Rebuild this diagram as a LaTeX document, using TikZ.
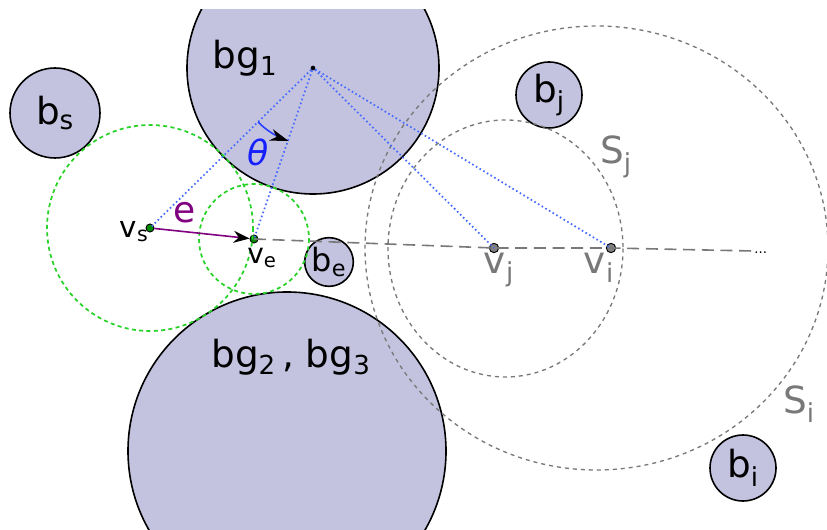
\documentclass[tikz,border=0pt]{standalone}
\usepackage{fontspec}
\setmainfont{DejaVu Sans}
\usetikzlibrary{arrows.meta, positioning, calc}
\definecolor{obstfill}{RGB}{195,195,224}
\definecolor{edgepurple}{RGB}{128,0,128}
\definecolor{rayblue}{RGB}{70,105,255}
\definecolor{ringgreen}{RGB}{40,210,40}
\definecolor{softgray}{RGB}{120,120,120}

\begin{document}
\begin{tikzpicture}[
        x=0.75pt, y=-0.75pt,
        obst/.style={circle, draw, line width=1.2pt, fill=obstfill, inner sep=0pt},
        gdot/.style={circle, draw, fill=green!55!black, minimum size=6pt,
                     inner sep=0pt, line width=0.7pt},
        kdot/.style={circle, draw, fill=gray, minimum size=7pt,
                     inner sep=0pt, line width=0.7pt},
        ring/.style={ringgreen, line width=1.3pt, dash pattern=on 3pt off 2.5pt},
        sring/.style={softgray, line width=1pt, dash pattern=on 3pt off 3pt},
        ray/.style={rayblue, line width=1.3pt, dash pattern=on 1.2pt off 2pt},
        track/.style={softgray, line width=1.2pt, dash pattern=on 9pt off 5pt},
        big/.style={font=\fontsize{28}{30}\selectfont},
        mid/.style={font=\fontsize{22}{24}\selectfont}
      ]
        \useasboundingbox (0,0) rectangle (827,530);
        \clip (0,10) rectangle (827,530);

        % obstacles
        \node[obst, minimum size=189pt] (bg1) at (313,68) {};
        \node[obst, minimum size=238.5pt] (bg23) at (287,451) {};
        \node[obst, minimum size=67.5pt, label={[big]center:b\textsubscript{s}}] (bs) at (55,113) {};
        \node[obst, minimum size=49.5pt, label={[big]center:b\textsubscript{j}}] (bj) at (549,95) {};
        \node[obst, minimum size=36.5pt, label={[font=\fontsize{24}{26}\selectfont]center:b\textsubscript{e}}] (be) at (329,262) {};
        \node[obst, minimum size=49.5pt, label={[big]center:b\textsubscript{i}}] (bi) at (743,468) {};

        % vertices
        \node[gdot] (vs) at (150,228) {};
        \node[gdot] (ve) at (254,239) {};
        \node[kdot] (vj) at (494,248) {};
        \node[kdot] (vi) at (611,248) {};
        \node[circle, fill, inner sep=0pt, minimum size=3.5pt] (bgc) at (313,68) {};
        \coordinate (far) at (753,251);

        % search rings
        \draw[ring] (vs.center) circle[radius=103];
        \draw[ring] (ve.center) circle[radius=55];
        \draw[sring] (505.5,248.5) ellipse[x radius=117.5, y radius=128.5];
        \draw[sring] (596.5,248) ellipse[x radius=231.5, y radius=222];

        % track
        \draw[track] (ve.center) -- (vj.center) -- (vi.center) -- (far);
        \node[anchor=base west, inner sep=0pt, font=\fontsize{10}{10}\selectfont] (more) at (754,254) {...};

        % rays from the centre of bg1
        \draw[ray] (bgc) -- (vs.center);
        \draw[ray] (bgc) -- (ve.center);
        \draw[ray] (bgc) -- (vj.center);
        \draw[ray] (bgc) -- (vi.center);

        % angle
        \draw[rayblue!60!blue, line width=1.2pt, -{Stealth[length=14pt, width=9pt, color=black]}]
          plot[domain=135.5:108.5, samples=20] ({313+77*cos(\x)},{68+77*sin(\x)});
        \node[rayblue!30!blue, font=\fontsize{26}{28}\selectfont\itshape] (theta) at (258,152) {θ};

        % edge
        \draw[edgepurple, line width=1.2pt, -{Stealth[length=12pt, width=9pt, color=black]}] (vs) -- (ve);
        \node[edgepurple, font=\fontsize{27}{29}\selectfont] (elbl) at (185,213) {e};

        % labels
        \node[big] (bg1lbl) at (245,58) {bg\textsubscript{1}};
        \node[big] (bg23lbl) at (291,357) {bg\textsubscript{2}\,, bg\textsubscript{3}};
        \node[mid] (vslbl) at (134,232) {v\textsubscript{s}};
        \node[font=\fontsize{21}{23}\selectfont] (velbl) at (262,258) {v\textsubscript{e}};
        \node[big, softgray] (vjlbl) at (499,270) {v\textsubscript{j}};
        \node[big, softgray] (vilbl) at (599,268) {v\textsubscript{i}};
        \node[big, softgray] (sjlbl) at (616,157) {S\textsubscript{j}};
        \node[big, softgray] (silbl) at (799,404) {S\textsubscript{i}};
      \end{tikzpicture}
\end{document}
